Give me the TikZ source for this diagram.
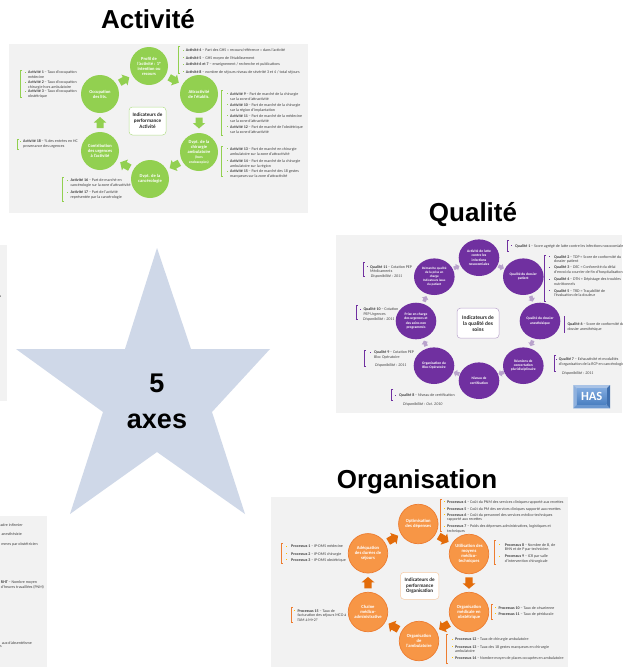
\documentclass[tikz,border=0pt]{standalone}
\usepackage{fontspec}
\setmainfont{Carlito}
\newfontfamily\arialf{Liberation Sans}
\usetikzlibrary{shapes.geometric}
\definecolor{panelbg}{HTML}{F2F2F2}
\definecolor{txtd}{HTML}{404040}
\definecolor{agreen}{HTML}{92D050}
\definecolor{agreenl}{HTML}{B5E08E}
\definecolor{qpurple}{HTML}{7030A0}
\definecolor{qpurplel}{HTML}{B9A3CC}
\definecolor{oorange}{HTML}{F79646}
\definecolor{oring}{HTML}{ED7D31}
\definecolor{oarrow}{HTML}{E36C0A}
\definecolor{ooutl}{HTML}{F6CBA6}
\definecolor{obul}{HTML}{FFC000}
\definecolor{starblue}{HTML}{CFD8E8}
\definecolor{hasb}{HTML}{A9C3E6}
\definecolor{hasl}{HTML}{8FB1DE}
\definecolor{hasr}{HTML}{3F6FAE}
\definecolor{hasbot}{HTML}{6A97D0}
\definecolor{hast}{HTML}{7FA9DE}
\definecolor{hasd}{HTML}{4A7FC1}
\newcount\liid
% bullet x, text x, y of first line centre, text
\newcommand{\li}[5]{\global\advance\liid by 1
  \node[bulletmark,fill=#1,name=b\the\liid] at (#2,#3-.1) {};
  \node[listtext,name=t\the\liid] at (#4,#3-1.45) {#5};}
\newcommand{\lt}[3]{\global\advance\liid by 1
  \node[listtext,name=t\the\liid] at (#1,#2-1.45) {#3};}
\newcommand{\brk}[4]{\draw[bracketline,#1] (#2+1.6,#3) -- (#2,#3) -- (#2,#4) -- (#2+1.6,#4);}
\newcommand{\smf}{\fontsize{3.6}{4.5}\selectfont}
\tikzset{
  bulletmark/.style={rectangle,inner sep=0pt,minimum size=.8pt},
  listtext/.style={anchor=north west,inner sep=0pt,align=left,text=txtd,font=\fontsize{4}{\listgap}\selectfont},
  bracketline/.style={line width=.5pt},
  maintitle/.style={font=\arialf\bfseries\fontsize{26}{30}\selectfont,text=black,inner sep=0pt},
  panelbox/.style={fill=panelbg,draw=none},
  acirc/.style={circle,fill=agreen,minimum size=38pt,inner sep=0pt,text=white,align=center,font=\bfseries\fontsize{4.5}{5}\selectfont},
  qcirc/.style={ellipse,fill=qpurple,minimum width=40.6pt,minimum height=36.6pt,inner sep=0pt,text=white,align=center,font=\bfseries\fontsize{3.6}{4.3}\selectfont},
  ocirc/.style={circle,fill=oorange,draw=oring,line width=.7pt,minimum size=39.5pt,inner sep=0pt,text=white,align=center,font=\bfseries\fontsize{4.6}{5}\selectfont},
  centrebox/.style={rectangle,rounded corners=3.5pt,fill=white,line width=.5pt,inner sep=0pt,text=black!85,align=center,font=\bfseries\fontsize{5.1}{6.2}\selectfont},
  pics/blockhead/.style n args={5}{code={\fill[#5] (-#3/2,-#2/2) -- (#3/2-#4,-#2/2) -- (#3/2-#4,-#1/2) -- (#3/2,0) -- (#3/2-#4,#1/2) -- (#3/2-#4,#2/2) -- (-#3/2,#2/2) -- cycle;}},
  pics/aflow/.style={blockhead={12.5}{7}{11}{5.5}{agreen}},
  pics/qflow/.style={blockhead={7}{3.6}{6}{3}{qpurplel}},
  pics/oflow/.style={blockhead={13}{7.4}{11.5}{5.5}{oarrow}},
}
\newcommand{\flow}[3]{\path (#2) -- pic[sloped,allow upside down,pos=.5]{#1} (#3);}
\begin{document}
\begin{tikzpicture}[x=1pt,y=-1pt]
\clip (0,0) rectangle (622,667);
\useasboundingbox (0,0) rectangle (622,667);
\fill[white] (0,0) rectangle (622,667);
% left fragments
\fill[panelbox] (0,245) rectangle (7,401);
\fill[panelbox] (0,516) rectangle (47,667);
\def\listgap{5}
\node[listtext,anchor=east,name=ftop] at (1.4,297) {s};
\node[listtext,anchor=east,name=fa] at (23,525.3) {cadre infirmier};
\node[listtext,anchor=east,name=fb] at (22,534.3) {anesthésiste};
\node[listtext,anchor=east,name=fc] at (38,544.3) {mmes par obstétricien};
\node[listtext,anchor=north west,name=fd] at (.8,580.8) {\textbf{RHT} – Nombre moyen\\d'heures travaillées (PNM)};
\node[listtext,anchor=east,name=fe] at (32,642.7) {aux d'absentéisme};
\node[listtext,anchor=east,name=ff] at (2,646.7) {s};
% star
\fill[starblue] (157,248) -- (191,349) -- (270,349) -- (212,412) -- (245,514) -- (157,452) -- (70,514) -- (103,412) -- (16,349) -- (125,349) -- cycle;
\node[font=\arialf\bfseries\fontsize{27}{36}\selectfont,align=center,inner sep=0pt,name=startext] at (157,401) {5\\axes};
% titles
\node[maintitle,name=tA] at (148,19) {Activité};
\node[maintitle,name=tQ] at (473,214.5) {Qualité};
\node[maintitle,name=tO] at (417,482) {Organisation};
% ---------- Activite
\fill[panelbox] (9,44) rectangle (308,213);
\node[acirc,name=a1] at (149,66) {Profil de\\l'activité : 1°\\intention ou\\recours};
\node[acirc,name=a2] at (199,94) {Attractivité\\de l'établis.};
\node[acirc,name=a3] at (199,152) {Dvpt. de la\\chirurgie\\ambulatoire\\\smf (hors\\\smf endoscopies)};
\node[acirc,name=a4] at (150,179) {Dvpt. de la\\cancérologie};
\node[acirc,name=a5] at (100,151) {Contribution\\des urgences\\à l'activité};
\node[acirc,name=a6] at (100,94) {Occupation\\des lits.};
\node[centrebox,draw=agreenl,minimum width=37pt,minimum height=28pt,name=ac] at (147.5,121) {Indicateurs de\\performance\\Activité};
\flow{aflow}{a1}{a2}\flow{aflow}{a2}{a3}\flow{aflow}{a3}{a4}\flow{aflow}{a4}{a5}\flow{aflow}{a5}{a6}\flow{aflow}{a6}{a1}
\def\listgap{4.9}
\brk{agreen}{20.7}{70}{97.7}
\li{agreen}{25.3}{72.3}{28}{\textbf{Activité 1} – Taux d'occupation\\médecine}
\li{agreen}{25.3}{82.3}{28}{\textbf{Activité 2} – Taux d'occupation\\chirurgie hors ambulatoire}
\li{agreen}{25.3}{91.3}{28}{\textbf{Activité 3} – Taux d'occupation\\obstétrique}
\brk{agreen}{178.7}{46.7}{73.3}
\li{agreen}{183}{50.3}{185.7}{\textbf{Activité 4} – Part des GHS « recours/référence » dans l'activité}
\li{agreen}{183}{57.7}{185.7}{\textbf{Activité 5} – GHS moyen de l'établissement}
\li{agreen}{183}{64.3}{185.7}{\textbf{Activité 6 et 7} – enseignement / recherche et publications}
\li{agreen}{183}{71.7}{185.7}{\textbf{Activité 8} – nombre de séjours niveau de sévérité 3 et 4 / total séjours}
\brk{agreen}{221.3}{90}{135}
\li{agreen}{227}{93.7}{230}{\textbf{Activité 9} – Part de marché de la chirurgie\\sur la zone d'attractivité}
\li{agreen}{227}{104.7}{230}{\textbf{Activité 10} – Part de marché de la chirurgie\\sur la région d'implantation}
\li{agreen}{227}{115.7}{230}{\textbf{Activité 11} – Part de marché de la médecine\\sur la zone d'attractivité}
\li{agreen}{227}{126.7}{230}{\textbf{Activité 12} – Part de marché de l'obstétrique\\sur la zone d'attractivité}
\brk{agreen}{221.3}{146}{176.7}
\li{agreen}{227}{148.7}{230}{\textbf{Activité 13} – Part de marché en chirurgie\\ambulatoire sur la zone d'attractivité}
\li{agreen}{227}{160.7}{230}{\textbf{Activité 14} – Part de marché de la chirurgie\\ambulatoire sur la région}
\li{agreen}{227}{171.3}{230}{\textbf{Activité 15} – Part de marché des 18 gestes\\marqueurs sur la zone d'attractivité}
\brk{agreen}{17.3}{139}{149}
\li{agreen}{20.7}{141.3}{23}{\textbf{Activité 18} – \% des entrées en HC\\provenance des urgences}
\brk{agreen}{62.3}{177}{201}
\li{agreen}{67.7}{180.3}{70.3}{\textbf{Activité 16} – Part de marché en\\cancérologie sur la zone d'attractivité}
\li{agreen}{67.7}{192.3}{70.3}{\textbf{Activité 17} – Part de l'activité\\représentée par la cancérologie}
% ---------- Qualite
\fill[panelbox] (336,235) rectangle (622,413);
\node[qcirc,name=q1] at (479,257.7) {Activité de lutte\\contre les\\infections\\nosocomiales};
\node[qcirc,name=q2] at (523.3,276.7) {Qualité du dossier\\patient};
\node[qcirc,name=q3] at (540,321) {Qualité du dossier\\anesthésique};
\node[qcirc,name=q4] at (523.3,365.7) {Réunions de\\concertation\\pluridisciplinaire};
\node[qcirc,name=q5] at (479,380.7) {Niveau de\\certification};
\node[qcirc,name=q6] at (434,365.7) {Organisation du\\Bloc Opératoire};
\node[qcirc,name=q7] at (416,321) {Prise en charge\\des urgences et\\des soins non\\programmés};
\node[qcirc,name=q8,font=\bfseries\fontsize{3.3}{4}\selectfont] at (434.3,276.7) {Démarche qualité\\de la prise en\\charge\\Indicateurs issus\\du patient};
\node[centrebox,draw=qpurplel,minimum width=42pt,minimum height=30pt,font=\bfseries\fontsize{5.4}{6}\selectfont,name=qc] at (478,323.2) {Indicateurs de\\la qualité des\\soins};
\flow{qflow}{q1}{q2}\flow{qflow}{q2}{q3}\flow{qflow}{q3}{q4}\flow{qflow}{q4}{q5}\flow{qflow}{q5}{q6}\flow{qflow}{q6}{q7}\flow{qflow}{q7}{q8}\flow{qflow}{q8}{q1}
\def\listgap{4.6}
\brk{qpurple}{507.3}{240}{251.7}
\li{qpurple}{511.7}{245.7}{515}{\textbf{Qualité 1} – Score agrégé de lutte contre les infections nosocomiales}
\brk{qpurple}{544}{255}{301}
\li{qpurple}{549.5}{256.7}{554}{\textbf{Qualité 2} – TDP = Score de conformité du\\dossier patient}
\li{qpurple}{549.5}{267.3}{554}{\textbf{Qualité 3} – DEC = Conformité du délai\\d'envoi du courrier de fin d'hospitalisation}
\li{qpurple}{549.5}{279}{554}{\textbf{Qualité 4} – DTN = Dépistage des troubles\\nutritionnels}
\li{qpurple}{549.5}{290.7}{554}{\textbf{Qualité 5} – TRD = Traçabilité de\\l'évaluation de la douleur}
\draw[bracketline,qpurple] (564.7,316) -- (564.7,332.7);
\lt{567.3}{324.3}{\textbf{Qualité 6} – Score de conformité du\\dossier anesthésique}
\brk{qpurple}{554.3}{355}{371}
\li{qpurple}{556.8}{359.3}{558.7}{\textbf{Qualité 7} – Exhaustivité et modalités\\d'organisation de la RCP en cancérologie}
\lt{562}{372.7}{\textit{Disponibilité : 2011}}
\brk{qpurple}{391.7}{389}{400.7}
\li{qpurple}{395}{395.3}{399}{\textbf{Qualité 8} – Niveau de certification}
\lt{403}{404.3}{\textit{Disponibilité : Oct. 2010}}
\brk{qpurple}{364.3}{350}{366.7}
\li{qpurple}{370}{352.3}{374}{\textbf{Qualité 9} – Cotation PEP\\Bloc Opératoire}
\lt{375}{365.3}{\textit{Disponibilité : 2011}}
\brk{qpurple}{356}{305.7}{319}
\li{qpurple}{360}{309.3}{363.3}{\textbf{Qualité 10} – Cotation\\PEP Urgences}
\lt{363}{318.7}{\textit{Disponibilité : 2011}}
\brk{qpurple}{363.3}{262.7}{276.7}
\li{qpurple}{367}{266.7}{370}{\textbf{Qualité 11} – Cotation PEP\\Médicaments}
\lt{370.7}{276.3}{\textit{Disponibilité : 2011}}
% HAS bevelled button
\fill[hasb] (573.3,385) -- (610,385) -- (606.5,388.5) -- (576.8,388.5) -- cycle;
\fill[hasl] (573.3,385) -- (576.8,388.5) -- (576.8,404.8) -- (573.3,408.3) -- cycle;
\fill[hasr] (610,385) -- (606.5,388.5) -- (606.5,404.8) -- (610,408.3) -- cycle;
\fill[hasbot] (573.3,408.3) -- (576.8,404.8) -- (606.5,404.8) -- (610,408.3) -- cycle;
\shade[top color=hast,bottom color=hasd] (576.8,388.5) rectangle (606.5,404.8);
\node[font=\bfseries\fontsize{12.5}{14}\selectfont,text=white,inner sep=0pt,name=has] at (591.7,396.7) {HAS};
% ---------- Organisation
\fill[panelbox] (271,497) rectangle (568,667);
\node[ocirc,name=o1] at (418.3,524) {Optimisation\\des dépenses};
\node[ocirc,name=o2] at (469,554) {Utilisation des\\moyens\\médico-\\techniques};
\node[ocirc,name=o3] at (469,612) {Organisation\\médicale en\\obstétrique};
\node[ocirc,name=o4] at (419,641) {Organisation\\de\\l'ambulatoire};
\node[ocirc,name=o5] at (368,612) {Chaîne\\médico-\\administrative};
\node[ocirc,name=o6] at (368,553.3) {Adéquation\\des durées de\\séjours};
\node[centrebox,draw=ooutl,minimum width=38.5pt,minimum height=27pt,font=\bfseries\fontsize{5.1}{5.6}\selectfont,name=oc] at (419.7,585.8) {Indicateurs de\\performance\\Organisation};
\flow{oflow}{o1}{o2}\flow{oflow}{o2}{o3}\flow{oflow}{o3}{o4}\flow{oflow}{o4}{o5}\flow{oflow}{o5}{o6}\flow{oflow}{o6}{o1}
\def\listgap{4.5}
\brk{oring}{440.3}{499.3}{531.7}
\li{obul}{444}{501.7}{447}{\textbf{Processus 4} – Coût du PNM des services cliniques rapporté aux recettes}
\li{obul}{444}{508.7}{447}{\textbf{Processus 5} – Coût du PM des services cliniques rapporté aux recettes}
\li{obul}{444}{514.7}{447}{\textbf{Processus 6} – Coût du personnel des services médico-techniques\\rapporté aux recettes}
\li{obul}{444}{526}{447}{\textbf{Processus 7} – Poids des dépenses administratives, logistiques et\\techniques}
\brk{oring}{494.3}{540}{564.3}
\li{obul}{499.3}{544.7}{504.7}{\textbf{Processus 8} – Nombre de B, de\\BHN et de P par technicien}
\li{obul}{499.3}{556}{504.7}{\textbf{Processus 9} – ICR par salle\\d'intervention chirurgicale}
\brk{oring}{491.3}{604}{619.3}
\li{obul}{495}{607.7}{498.3}{\textbf{Processus 10} – Taux de césarienne}
\li{obul}{495}{613.7}{498.3}{\textbf{Processus 11} – Taux de péridurale}
\brk{oring}{446.3}{634}{663.3}
\li{obul}{452.3}{639.3}{455}{\textbf{Processus 12} – Taux de chirurgie ambulatoire}
\li{obul}{452.3}{646.7}{455}{\textbf{Processus 13} – Taux des 18 gestes marqueurs en chirurgie\\ambulatoire}
\li{obul}{452.3}{657.7}{455}{\textbf{Processus 14} – Nombre moyen de places occupées en ambulatoire}
\brk{oring}{291.3}{607.3}{622.7}
\li{obul}{294.3}{610.7}{297.3}{\textbf{Processus 15} – Taux de\\facturation des séjours MCO à\\l'AM à M+2?}
\brk{oring}{281.3}{543.3}{563.3}
\li{obul}{286}{546.3}{291}{\textbf{Processus 1} – IP-DMS médecine}
\li{obul}{286}{553.7}{291}{\textbf{Processus 2} – IP-DMS chirurgie}
\li{obul}{286}{559.7}{291}{\textbf{Processus 3} – IP-DMS obstétrique}
\end{tikzpicture}
\end{document}
